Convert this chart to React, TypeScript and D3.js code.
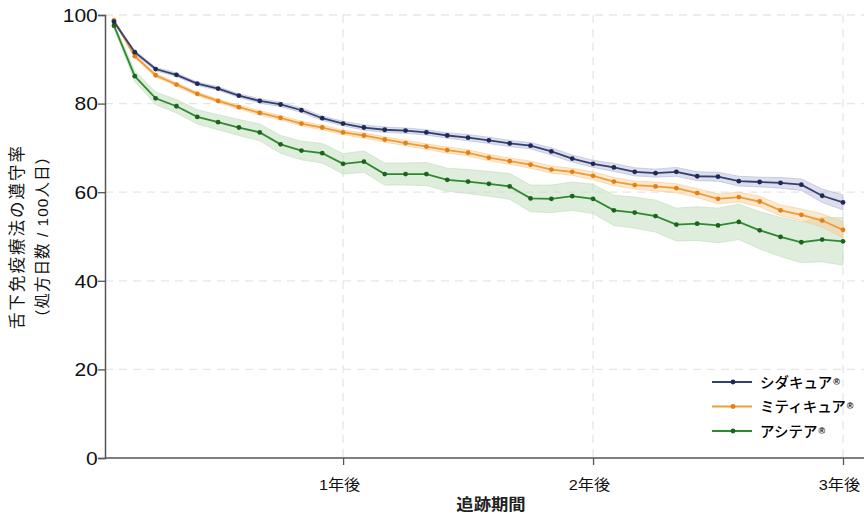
import React, { useEffect, useRef } from "react";
import * as d3 from "d3";

const WIDTH = 864;
const HEIGHT = 513;

// months after start of treatment
const months = [
  1, 2, 3, 4, 5, 6, 7, 8, 9, 10, 11, 12, 13, 14, 15, 16, 17, 18,
  19, 20, 21, 22, 23, 24, 25, 26, 27, 28, 29, 30, 31, 32, 33, 34, 35, 36,
];

const seriesNames = ["シダキュア", "ミティキュア", "アシテア"];

const cedarValues = [
  98.5, 91.6, 87.8, 86.5, 84.5, 83.4, 81.8, 80.6, 79.8, 78.5, 76.7, 75.5,
  74.6, 74.1, 73.9, 73.5, 72.8, 72.3, 71.7, 71.0, 70.5, 69.2, 67.6, 66.4,
  65.6, 64.6, 64.3, 64.6, 63.6, 63.5, 62.5, 62.3, 62.1, 61.7, 59.2, 57.7,
];
const miteValues = [
  98.8, 90.7, 86.4, 84.3, 82.2, 80.6, 79.2, 77.9, 76.8, 75.5, 74.6, 73.5,
  72.8, 71.9, 71.1, 70.3, 69.5, 68.9, 67.8, 67.0, 66.2, 65.1, 64.6, 63.7,
  62.4, 61.6, 61.3, 60.9, 59.8, 58.5, 58.9, 57.9, 55.9, 54.9, 53.6, 51.5,
];
const actairValues = [
  97.6, 86.2, 81.2, 79.4, 77.0, 75.8, 74.6, 73.5, 70.8, 69.4, 68.8, 66.4,
  66.9, 64.1, 64.1, 64.1, 62.8, 62.4, 61.9, 61.3, 58.6, 58.5, 59.1, 58.5,
  55.9, 55.4, 54.6, 52.7, 52.9, 52.5, 53.3, 51.4, 49.9, 48.7, 49.3, 48.9,
];

// half width of the confidence band
const cedarCi = [
  0.3, 0.4, 0.4, 0.4, 0.4, 0.4, 0.4, 0.5, 0.5, 0.5, 0.5, 0.5,
  0.6, 0.6, 0.6, 0.6, 0.6, 0.7, 0.7, 0.7, 0.7, 0.8, 0.8, 0.8,
  0.9, 0.9, 0.9, 1.0, 1.0, 1.0, 1.1, 1.1, 1.2, 1.3, 1.5, 1.7,
];
const miteCi = [
  0.3, 0.4, 0.4, 0.4, 0.4, 0.4, 0.4, 0.5, 0.5, 0.5, 0.5, 0.5,
  0.6, 0.6, 0.6, 0.6, 0.7, 0.7, 0.7, 0.7, 0.8, 0.8, 0.8, 0.9,
  0.9, 0.9, 1.0, 1.0, 1.0, 1.1, 1.1, 1.2, 1.2, 1.3, 1.5, 1.8,
];
const actairCi = [
  0.5, 1.2, 1.4, 1.5, 1.6, 1.7, 1.8, 1.9, 2.0, 2.1, 2.2, 2.3,
  2.4, 2.5, 2.5, 2.6, 2.6, 2.7, 2.8, 2.9, 3.0, 3.1, 3.2, 3.3,
  3.4, 3.5, 3.6, 3.7, 3.8, 3.9, 4.0, 4.2, 4.4, 4.6, 5.0, 5.4,
];

const yTicks = [0, 20, 40, 60, 80, 100];
const xTicks = [12, 24, 36];
const xTickLabels = ["1年後", "2年後", "3年後"];

const colors = [
  { line: "#34406f", dot: "#1f2957", band: "#b3b8d8", bandOpacity: 0.45 },
  { line: "#f09b35", dot: "#e57f12", band: "#f7c88a", bandOpacity: 0.4 },
  { line: "#2e8a2e", dot: "#1b651b", band: "#bfdcba", bandOpacity: 0.5 },
];

const FONT = "'Liberation Sans', 'Noto Sans CJK JP', sans-serif";

const App: React.FC = () => {
  const ref = useRef<SVGSVGElement>(null);

  useEffect(() => {
    if (!ref.current) return;
    const svg = d3.select(ref.current);
    svg.selectAll("*").remove();

    const left = 105;
    const top = 15;
    const bottom = 458;

    const x = d3.scaleLinear().domain([0.57, 36]).range([left, 843]);
    const y = d3.scaleLinear().domain([0, 100]).range([bottom, top]);

    const series = [cedarValues, miteValues, actairValues].map((vals, i) => ({
      name: seriesNames[i],
      color: colors[i],
      points: months.map((m, j) => ({
        m,
        v: vals[j],
        ci: [cedarCi, miteCi, actairCi][i][j],
      })),
    }));

    // grid
    const grid = svg.append("g");
    grid
      .selectAll("line.h")
      .data(yTicks.filter((t) => t > 0))
      .enter()
      .append("line")
      .attr("x1", left)
      .attr("x2", WIDTH)
      .attr("y1", (d) => y(d))
      .attr("y2", (d) => y(d))
      .attr("stroke", "#e6e6e6")
      .attr("stroke-width", 1.3)
      .attr("stroke-dasharray", "8,6");
    grid
      .selectAll("line.v")
      .data(xTicks)
      .enter()
      .append("line")
      .attr("x1", (d) => x(d))
      .attr("x2", (d) => x(d))
      .attr("y1", top)
      .attr("y2", bottom)
      .attr("stroke", "#e6e6e6")
      .attr("stroke-width", 1.3)
      .attr("stroke-dasharray", "8,6");

    type P = { m: number; v: number; ci: number };

    // confidence bands (green drawn first)
    const area = d3
      .area<P>()
      .x((d) => x(d.m))
      .y0((d) => y(d.v - d.ci))
      .y1((d) => y(d.v + d.ci));

    [2, 1, 0].forEach((i) => {
      const s = series[i];
      svg
        .append("path")
        .datum(s.points)
        .attr("fill", s.color.band)
        .attr("fill-opacity", s.color.bandOpacity)
        .attr("stroke", s.color.band)
        .attr("stroke-opacity", 0.6)
        .attr("stroke-width", 1)
        .attr("d", area);
    });

    const line = d3
      .line<P>()
      .x((d) => x(d.m))
      .y((d) => y(d.v));

    [2, 1, 0].forEach((i) => {
      const s = series[i];
      svg
        .append("path")
        .datum(s.points)
        .attr("fill", "none")
        .attr("stroke", s.color.line)
        .attr("stroke-width", 1.8)
        .attr("d", line);
      svg
        .append("g")
        .selectAll("circle")
        .data(s.points)
        .enter()
        .append("circle")
        .attr("cx", (d) => x(d.m))
        .attr("cy", (d) => y(d.v))
        .attr("r", 2.4)
        .attr("fill", s.color.dot);
    });

    // y axis
    const yAxis = svg
      .append("g")
      .attr("transform", `translate(${left},0)`)
      .call(d3.axisLeft(y).tickValues(yTicks).tickSize(7).tickPadding(0));
    yAxis.select(".domain").attr("stroke", "#555").attr("stroke-width", 1.5);
    yAxis.selectAll(".tick line").attr("stroke", "#555").attr("stroke-width", 1.3);
    yAxis
      .selectAll(".tick text")
      .attr("x", -6)
      .attr("dy", "0.36em")
      .attr("transform", "scale(1.2,1)")
      .style("font-family", FONT)
      .style("font-size", "17.5px")
      .attr("fill", "#111");

    // x axis
    const xAxis = svg
      .append("g")
      .attr("transform", `translate(0,${bottom})`)
      .call(
        d3
          .axisBottom(x)
          .tickValues(xTicks)
          .tickSize(7)
          .tickFormat((_, i) => xTickLabels[i])
      );
    xAxis
      .select(".domain")
      .attr("d", `M${left},0H${WIDTH}`)
      .attr("stroke", "#555")
      .attr("stroke-width", 1.5);
    xAxis.selectAll(".tick line").attr("stroke", "#555").attr("stroke-width", 1.3);
    xAxis
      .selectAll(".tick text")
      .attr("y", 0)
      .attr("dy", 0)
      .attr("transform", "translate(-4,32) scale(1.08,1)")
      .style("font-family", FONT)
      .style("font-size", "15px")
      .attr("fill", "#111");

    // axis titles
    svg
      .append("text")
      .attr("x", 491)
      .attr("y", 510)
      .attr("text-anchor", "middle")
      .style("font-family", FONT)
      .style("font-size", "15.5px")
      .style("font-weight", "bold")
      .attr("fill", "#222")
      .attr("transform", "translate(491,0) scale(1.12,1) translate(-491,0)")
      .text("追跡期間");

    const yTitle = svg
      .append("g")
      .attr("transform", `translate(0,${(top + bottom) / 2}) rotate(-90)`);
    yTitle
      .append("text")
      .attr("x", 0)
      .attr("y", 23)
      .attr("text-anchor", "middle")
      .style("font-family", FONT)
      .style("font-size", "16.5px")
      .style("letter-spacing", "2px")
      .attr("fill", "#111")
      .text("舌下免疫療法の遵守率");
    yTitle
      .append("text")
      .attr("x", 0)
      .attr("y", 48)
      .attr("text-anchor", "middle")
      .style("font-family", FONT)
      .style("font-size", "15.5px")
      .style("letter-spacing", "1px")
      .attr("fill", "#111")
      .text("（処方日数 / 100人日）");

    // legend
    const legend = svg.append("g").attr("transform", "translate(712,382)");
    series.forEach((s, i) => {
      const row = legend.append("g").attr("transform", `translate(0,${i * 24.5})`);
      row
        .append("line")
        .attr("x1", 0)
        .attr("x2", 40)
        .attr("stroke", s.color.line)
        .attr("stroke-width", 1.8);
      row
        .append("circle")
        .attr("cx", 21)
        .attr("r", 2.4)
        .attr("fill", s.color.dot);
      const t = row
        .append("text")
        .attr("x", 48)
        .attr("y", 5.5)
        .style("font-family", FONT)
        .style("font-size", "14.5px")
        .style("font-weight", "500")
        .attr("fill", "#000");
      t.append("tspan").text(s.name);
      t.append("tspan")
        .attr("dx", 1)
        .attr("dy", -3)
        .style("font-size", "9px")
        .style("font-weight", "bold")
        .text("®");
    });
  }, []);

  return (
    <svg
      ref={ref}
      width={WIDTH}
      height={HEIGHT}
      viewBox={`0 0 ${WIDTH} ${HEIGHT}`}
      style={{ position: "absolute", left: 0, top: 0, background: "#fff" }}
    />
  );
};

export default App;
